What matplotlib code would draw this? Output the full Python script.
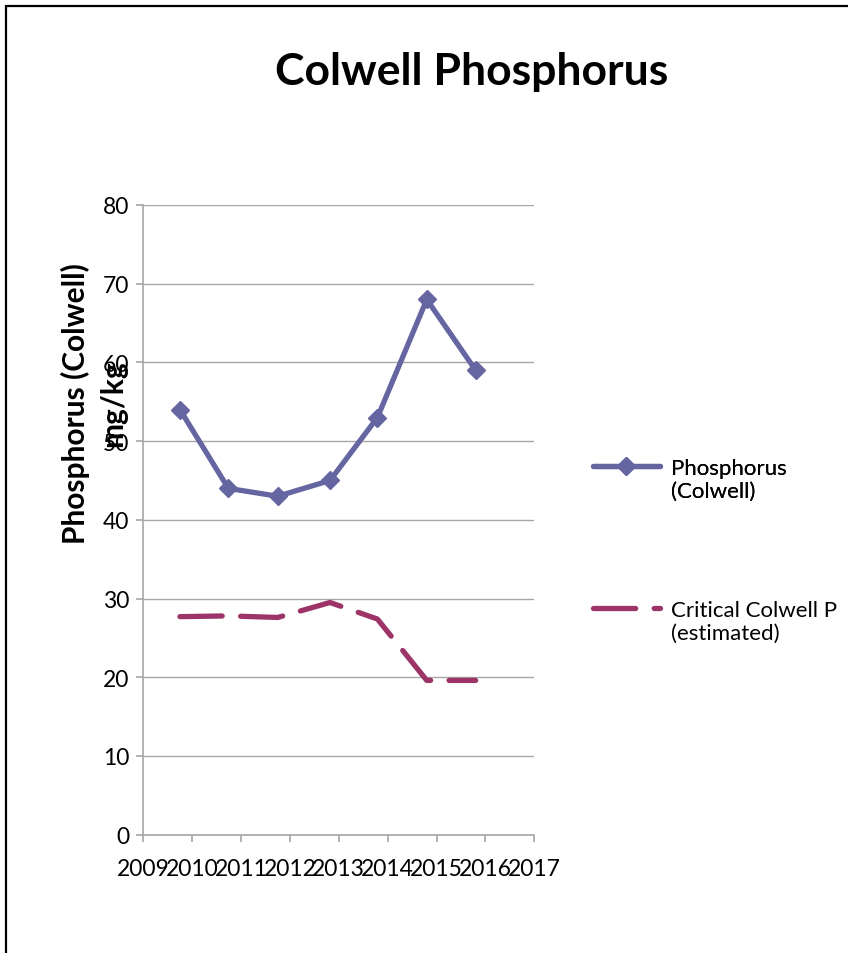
import matplotlib
matplotlib.use('Agg')
import matplotlib.pyplot as plt
from matplotlib.lines import Line2D
from matplotlib.patches import Rectangle

# Datos
years = [2009.75, 2010.74, 2011.75, 2012.82, 2013.79, 2014.80, 2015.80]
phosphorus = [54, 44, 43, 45, 53, 68, 59]
critical_p = [27.7, 27.8, 27.6, 29.5, 27.4, 19.6, 19.6]
x_ticks = list(range(2009, 2018))
y_ticks = list(range(0, 90, 10))

plt.rcParams['font.family'] = ['Lato', 'DejaVu Sans']

blue = '#6465A1'
maroon = '#9C3468'
grey = '#A6A6A6'

fig = plt.figure(figsize=(8.48, 9.54), dpi=100)
ax = fig.add_axes([143.3 / 848, 1 - 835.7 / 954, (534.3 - 143.3) / 848, (835.7 - 206) / 954])

ax.plot(years, phosphorus, color=blue, lw=3.8, marker='D', markersize=9,
        markerfacecolor=blue, markeredgecolor=blue, solid_capstyle='round',
        solid_joinstyle='round', zorder=3)
ax.plot(years, critical_p, color=maroon, lw=3.8, linestyle=(0, (8, 3.5)),
        dash_capstyle='round', zorder=3)

ax.set_xlim(2009, 2017)
ax.set_ylim(0, 80)
ax.set_xticks(x_ticks)
ax.set_yticks(y_ticks)
ax.set_xticklabels([str(t) for t in x_ticks])
ax.yaxis.grid(True, color=grey, lw=1)
ax.set_axisbelow(True)
for s in ['top', 'right']:
    ax.spines[s].set_visible(False)
for s in ['left', 'bottom']:
    ax.spines[s].set_color(grey)
    ax.spines[s].set_linewidth(1.2)
ax.tick_params(axis='both', colors=grey, labelcolor='black', labelsize=16.5,
               length=5, width=1.2, direction='out')
ax.tick_params(axis='x', pad=12)
ax.tick_params(axis='y', pad=5)

# Título y etiqueta del eje
fig.text(472 / 848, 1 - 85 / 954, 'Colwell Phosphorus', ha='center', va='baseline',
         fontsize=32, fontweight='bold')
fig.text(94 / 848, 1 - 404 / 954, 'Phosphorus (Colwell)\nmg/kg', rotation=90,
         ha='center', va='center', multialignment='center', fontsize=21.5,
         fontweight='bold', linespacing=1.4)

# Leyenda (dos bloques)
h1 = Line2D([], [], color=blue, lw=3.8, marker='D', markersize=9, solid_capstyle='round')
h2 = Line2D([], [], color=maroon, lw=3.8, linestyle=(0, (8, 3.5)), dash_capstyle='round')
blank = Line2D([], [], linestyle='none')
leg_kw = dict(frameon=False, fontsize=16, handlelength=3.0, handletextpad=0.5,
              labelspacing=0.15, borderpad=0, borderaxespad=0, loc='upper left')
leg1 = fig.legend([h1, blank], ['Phosphorus', '(Colwell)'],
                  bbox_to_anchor=(593 / 848, 1 - 459 / 954), **leg_kw)
fig.add_artist(leg1)
fig.legend([h2, blank], ['Critical Colwell P', '(estimated)'],
           bbox_to_anchor=(593 / 848, 1 - 601 / 954), **leg_kw)

# Borde del área del gráfico
fig.add_artist(Rectangle((6 / 848, -0.1), 1.2, 1 - 7 / 954 + 0.1, transform=fig.transFigure,
                         fill=False, edgecolor='black', lw=1.6, clip_on=False))

fig.savefig('out.png', dpi=100)
